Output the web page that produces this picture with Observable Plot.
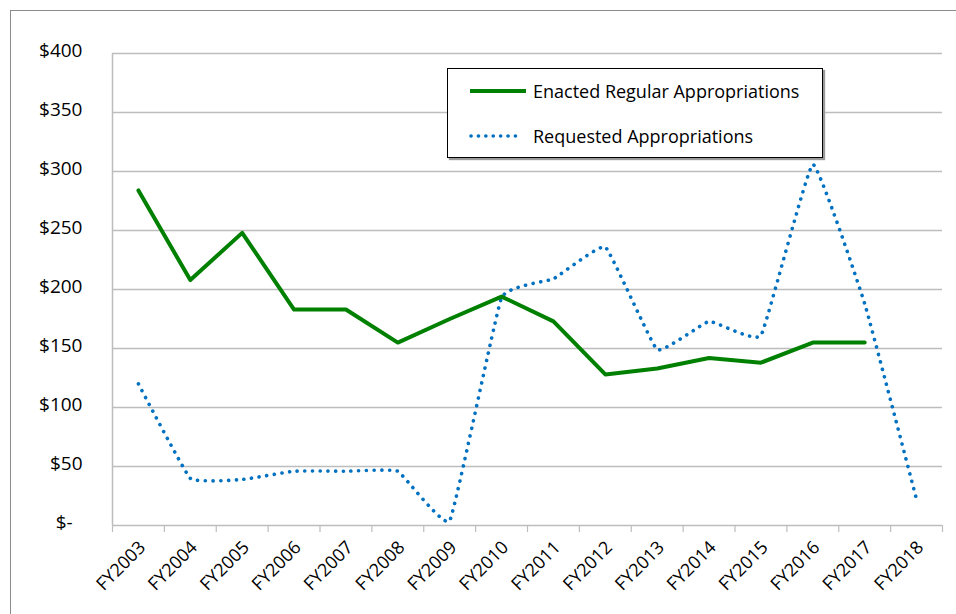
<!DOCTYPE html>
<html>
<head>
<meta charset="utf-8">
<script src="https://cdn.jsdelivr.net/npm/d3@7"></script>
<script src="https://cdn.jsdelivr.net/npm/@observablehq/plot@0.6"></script>
<style>
  html, body { margin: 0; padding: 0; background: #fff; overflow: hidden; }
  #wrap { position: relative; width: 956px; height: 614px; overflow: hidden; }
  #frame { position: absolute; left: 10px; top: 10px; width: 960px; height: 640px; border: 1.5px solid #8c8c8c; box-sizing: border-box; pointer-events: none; }
  #legend { position: absolute; left: 447px; top: 68px; width: 376px; height: 90px; border: 1px solid #000; background: #fff; box-sizing: border-box; box-shadow: 2px 2px 1px #9a9a9a; font-family: "Open Sans", sans-serif; font-size: 18px; color: #000; }
  .item { position: absolute; left: 21px; height: 22px; display: flex; align-items: center; white-space: nowrap; }
  .item svg { margin-right: 4px; }
</style>
</head>
<body>
<div id="wrap">
  <div id="chart"></div>
  <div id="frame"></div>
  <div id="legend"></div>
</div>
<script>
const categories = ["FY2003","FY2004","FY2005","FY2006","FY2007","FY2008","FY2009","FY2010","FY2011","FY2012","FY2013","FY2014","FY2015","FY2016","FY2017","FY2018"];
const enacted   = [284, 208, 248, 183, 183, 155, 175, 194, 173, 128, 133, 142, 138, 155, 155, null];
const requested = [120, 40, 39, 46, 46, 46, 4, 193, 209, 236, 149, 173, 161, 306, 188, 22];
const yTicks = [0, 50, 100, 150, 200, 250, 300, 350, 400];
const seriesNames = ["Enacted Regular Appropriations", "Requested Appropriations"];
const colors = ["#008000", "#0070c0"];

const idx = categories.map((_, i) => i);
const boundaries = d3.range(-0.5, categories.length, 1);
const enactedData = idx.filter(i => enacted[i] != null).map(i => ({i, v: enacted[i]}));
const requestedData = idx.filter(i => requested[i] != null).map(i => ({i, v: requested[i]}));

const chart = Plot.plot({
  width: 956,
  height: 614,
  marginLeft: 112,
  marginRight: 14,
  marginTop: 53,
  marginBottom: 89,
  style: {fontFamily: "Open Sans, sans-serif", color: "#000", background: "transparent"},
  x: {type: "linear", domain: [-0.5, categories.length - 0.5], label: null},
  y: {domain: [0, 400], label: null},
  marks: [
    Plot.gridY(yTicks, {stroke: "#bdbdbd", strokeOpacity: 1, strokeWidth: 1.5}),
    Plot.ruleX([-0.5], {stroke: "#bdbdbd", strokeWidth: 1.5}),
    Plot.axisX(boundaries, {tickSize: 7, tickFormat: () => "", stroke: "#bdbdbd", strokeWidth: 1.2, label: null}),
    Plot.axisX(idx, {tickSize: 0, tickPadding: 19, tickRotate: -45, tickFormat: i => categories[i], fontSize: 18, dx: 4, label: null}),
    Plot.axisY(yTicks, {tickSize: 0, tickPadding: 30, fontSize: 19, dy: -3, label: null,
      tickFormat: d => d === 0 ? "$-\u00a0\u00a0" : "$" + d}),
    Plot.line(requestedData, {x: "i", y: "v", curve: "cardinal", tension: 0.7, stroke: colors[1], strokeWidth: 3.6, strokeDasharray: "0.1 7.6", strokeLinecap: "round"}),
    Plot.line(enactedData, {x: "i", y: "v", stroke: colors[0], strokeWidth: 4})
  ]
});
document.getElementById("chart").appendChild(chart);

const legend = document.getElementById("legend");
seriesNames.forEach((name, k) => {
  const div = document.createElement("div");
  div.className = "item";
  div.style.top = (k === 0 ? 11 : 56) + "px";
  const dash = k === 0 ? "" : 'stroke-dasharray="0.1 7.3" stroke-linecap="round"';
  const w = k === 0 ? 4 : 3.6;
  div.innerHTML = `<svg width="60" height="10"><line x1="${k===0?1:2}" x2="${k===0?57:53}" y1="5" y2="5" stroke="${colors[k]}" stroke-width="${w}" ${dash}/></svg><span>${name}</span>`;
  legend.appendChild(div);
});
</script>
</body>
</html>
